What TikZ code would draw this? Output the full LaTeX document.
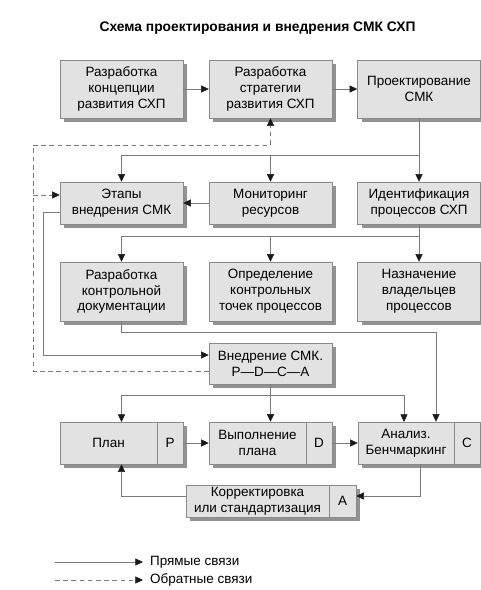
\documentclass[tikz,border=0pt]{standalone}
\usepackage{fontspec}
\setmainfont{Liberation Sans}
\usetikzlibrary{arrows.meta,shadows}
\definecolor{boxfill}{HTML}{E2E2E2}
\definecolor{boxline}{HTML}{8A8A8A}
\definecolor{shade}{HTML}{929292}
\definecolor{wire}{HTML}{7A7A7A}
\begin{document}
\begin{tikzpicture}[x=0.03cm,y=-0.03cm,
    font=\fontsize{11.5}{13.6}\selectfont,
    box/.style={draw=boxline,fill=boxfill,align=center,inner sep=1pt,
      minimum width=3.69cm,
      drop shadow={shadow xshift=0.12cm,shadow yshift=-0.12cm,fill=shade,opacity=1}},
    cell/.style={box,minimum width=#1*0.03cm},
    link/.style={draw=wire,line width=0.5pt,-{Triangle[length=6.5pt,width=6pt,color=black!90]}},
    back/.style={link,dashed,dash pattern=on 4pt off 3pt}]
  \useasboundingbox (0,0) rectangle (481,590);
  \node (T) at (257.5,28) {\fontsize{11.8}{14}\selectfont\bfseries Схема проектирования и внедрения СМК СХП};

  % first row
  \node[box,minimum height=1.74cm] (RK) at (121.5,89) {Разработка\\концепции\\развития СХП};
  \node[box,minimum height=1.74cm] (RS) at (270.5,89) {Разработка\\стратегии\\развития СХП};
  \node[box,minimum height=1.74cm] (PS) at (419,89) {Проектирование\\СМК};

  % second row
  \node[box,minimum height=1.26cm] (ET) at (121.5,203) {Этапы\\внедрения СМК};
  \node[box,minimum height=1.26cm] (MR) at (270.5,203) {Мониторинг\\ресурсов};
  \node[box,minimum height=1.26cm] (IP) at (419,203) {Идентификация\\процессов СХП};

  % third row
  \node[box,minimum height=1.77cm] (RD) at (121.5,291.5) {Разработка\\контрольной\\документации};
  \node[box,minimum height=1.77cm] (OT) at (270.5,291.5) {Определение\\контрольных\\точек процессов};
  \node[box,minimum height=1.77cm] (NV) at (419,291.5) {Назначение\\владельцев\\процессов};

  \node[box,minimum height=1.23cm] (VS) at (270.5,363.5) {Внедрение СМК.\\P---D---C---A};

  % PDCA row
  \node[cell=97,minimum height=1.26cm] (PL) at (108.5,443) {План};
  \node[cell=26,minimum height=1.26cm] (PLP) at (170,443) {P};
  \node[cell=97,minimum height=1.26cm] (VP) at (257.5,443) {Выполнение\\плана};
  \node[cell=26,minimum height=1.26cm] (VPD) at (319,443) {D};
  \node[cell=96,minimum height=1.26cm] (AB) at (406,443) {Анализ.\\Бенчмаркинг};
  \node[cell=26,minimum height=1.26cm] (ABC) at (467,443) {C};
  \node[cell=143,minimum height=0.96cm] (KS) at (257.5,501) {Корректировка\\или стандартизация};
  \node[cell=27,minimum height=0.96cm] (KSA) at (342.5,501) {A};

  \coordinate (S1) at (419,155);
  \coordinate (S2) at (419,236);
  \coordinate (S3) at (270.5,395);
  \coordinate (D1) at (33,145);
  \coordinate (D2) at (33,371);
  \coordinate (D3) at (33,195);
  \coordinate (E1) at (43,212);
  \coordinate (E2) at (43,355);
  \coordinate (R1) at (121.5,332);
  \coordinate (R2) at (436,332);
  \coordinate (A1) at (420,496);
  \coordinate (A2) at (121.5,496);

  \draw[link] (RK) -- (RS);
  \draw[link] (RS) -- (PS);

  \draw[draw=wire] (PS) -- (S1);
  \draw[link] (S1) -- (IP);
  \draw[link] (S1) -| (ET);
  \draw[link] (S1 -| MR) -- (MR);
  \draw[link] (MR) -- (ET);

  \draw[draw=wire] (IP) -- (S2);
  \draw[link] (S2) -- (NV);
  \draw[link] (S2) -| (RD);
  \draw[link] (S2 -| OT) -- (OT);

  \draw[link] (ET.west |- E1) -- (E1) -- (E2) -- (VS.west |- E2);
  \draw[link] (RD.south) -- (R1) -- (R2) -- (R2 |- AB.north);

  \draw[back] (VS.west |- D2) -- (D2) -- (D1) -- (D1 -| RS) -- (RS);
  \draw[back] (D3) -- (ET.west |- D3);

  \draw[draw=wire] (VS) -- (S3);
  \draw[link] (S3) -- (VS |- VP.north);
  \draw[link] (S3) -- (121.5,395) -- (121.5,422);
  \draw[link] (S3) -- (404,395) -- (404,422);

  \draw[link] (PLP) -- (VP);
  \draw[link] (VPD) -- (AB);
  \draw[link] (A1 |- AB.south) -- (A1) -- (KSA.east |- A1);
  \draw[link] (KS.west |- A2) -- (A2) -- (A2 |- PL.south);

  % legend
  \coordinate (L1) at (55,562);
  \coordinate (L2) at (143,562);
  \coordinate (L3) at (55,580);
  \coordinate (L4) at (143,580);
  \draw[link] (L1) -- (L2);
  \draw[back] (L3) -- (L4);
  \node[anchor=west] (LP) at (146,562) {Прямые связи};
  \node[anchor=west] (LO) at (146,580) {Обратные связи};
\end{tikzpicture}
\end{document}
